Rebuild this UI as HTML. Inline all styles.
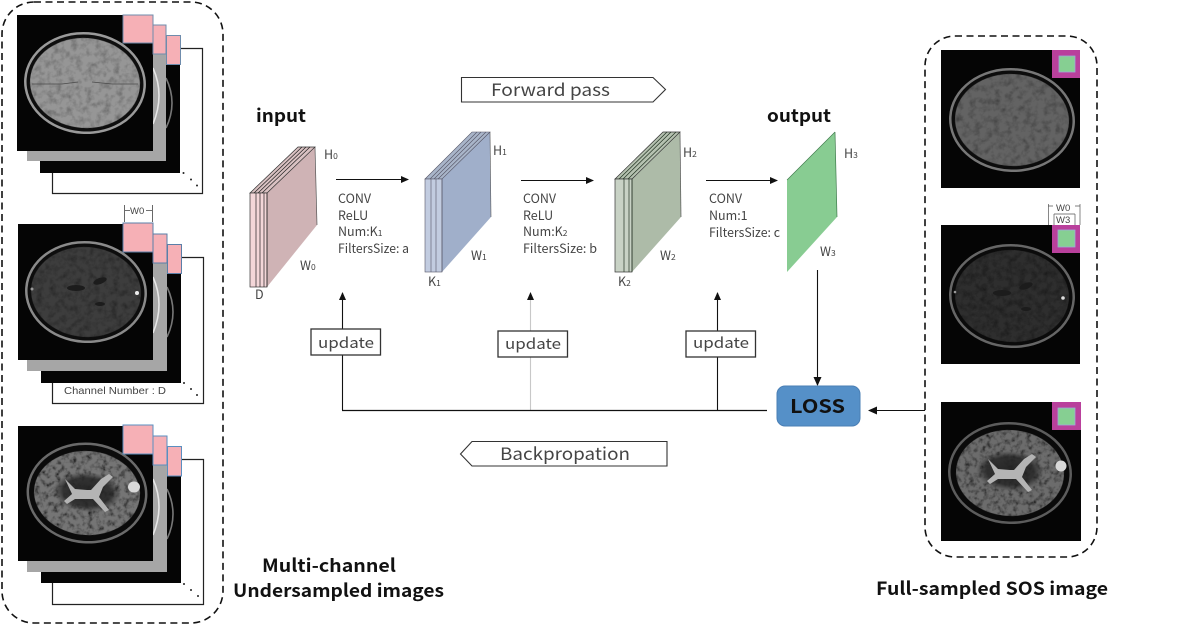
<!DOCTYPE html>
<html><head><meta charset="utf-8">
<style>
html,body{margin:0;padding:0;background:#fff}
svg{display:block}
text{font-family:"Noto Sans CJK SC","Liberation Sans",sans-serif;fill:#444;font-size:12.5px}
.b{font-weight:700;fill:#111;font-size:18px}
.s{font-size:8.5px}
</style></head><body>
<svg width="1177" height="624" viewBox="0 0 1177 624" xmlns="http://www.w3.org/2000/svg">
<defs>
<filter id="tex" x="0" y="0" width="100%" height="100%">
<feTurbulence type="fractalNoise" baseFrequency="0.16" numOctaves="3" seed="4"/>
<feColorMatrix values="0 0 0 0 0  0 0 0 0 0  0 0 0 0 0  1.1 0 0 0 -0.46"/>
<feComposite in2="SourceAlpha" operator="in"/>
<feMerge><feMergeNode in="SourceGraphic"/><feMergeNode/></feMerge>
</filter>
<filter id="tex2" x="0" y="0" width="100%" height="100%">
<feTurbulence type="fractalNoise" baseFrequency="0.2" numOctaves="3" seed="9"/>
<feColorMatrix values="0 0 0 0 0  0 0 0 0 0  0 0 0 0 0  2.200 0 0 0 -0.95"/>
<feComposite in2="SourceAlpha" operator="in"/>
<feMerge><feMergeNode in="SourceGraphic"/><feMergeNode/></feMerge>
</filter>
<radialGradient id="dk"><stop offset="0" stop-color="#222" stop-opacity=".95"/><stop offset=".7" stop-color="#222" stop-opacity=".8"/><stop offset="1" stop-color="#222" stop-opacity="0"/></radialGradient>
<marker id="a" markerWidth="8" markerHeight="8" refX="7" refY="4" orient="auto" markerUnits="userSpaceOnUse"><path d="M0,0.5L8,4L0,7.5z" fill="#111"/></marker>
<marker id="v" markerWidth="9" markerHeight="9" refX="8" refY="4.5" orient="auto" markerUnits="userSpaceOnUse"><path d="M0,0.5L9,4.5L0,8.5z" fill="#111"/></marker>
<g id="ventT1" fill="#1c1c1c">
<ellipse cx="-10" cy="-4" rx="9" ry="3"/><ellipse cx="14" cy="-11" rx="7" ry="3" transform="rotate(-20 14 -11)"/><ellipse cx="14" cy="12" rx="5" ry="2"/>
</g>
<g id="ventT2" fill="#b4b4b4">
<path d="M-22,-14L-12,-4L0,-3L4,-3L14,-14L22,-19L26,-16L16,-6L12,4L22,17L18,19L6,6L-12,6L-20,11L-23,8L-15,1z"/>
</g>
</defs>
<rect width="1177" height="624" fill="#fff"/>

<!-- dashed containers -->
<rect x="2" y="2" width="221" height="621" rx="32" fill="none" stroke="#111" stroke-width="1.6" stroke-dasharray="7 4.5"/>
<rect x="925" y="36" width="172" height="521" rx="30" fill="none" stroke="#111" stroke-width="1.6" stroke-dasharray="7 4.5"/>

<!-- stack 1 -->
<g>
<path d="M180,48.500H202.500V193.500H52.500V173" fill="none" stroke="#222" stroke-width="1.200"/>
<rect x="40" y="50" width="140" height="123" fill="#050505"/>
<path d="M166,78Q178,103 166,128" fill="none" stroke="#777" stroke-width="1.600"/>
<rect x="27" y="40" width="139" height="121" fill="#a6a6a6"/>
<path d="M153,68Q165,95 153,124" fill="none" stroke="#e6e6e6" stroke-width="1.600"/>
<rect x="17" y="15" width="136" height="136" fill="#050505"/>
<g transform="rotate(4 85 83)">
<ellipse cx="85" cy="83" rx="61" ry="51" fill="#9a9a9a"/>
<ellipse cx="85" cy="83" rx="58.500" ry="48.500" fill="#0e0e0e"/>
<ellipse cx="85" cy="83" rx="55" ry="45" fill="#969696" filter="url(#tex)"/>
</g>
<path d="M32,84H62L78,82M92,82L112,84H138" stroke="#4a4a4a" stroke-width=".8" fill="none"/>
<rect x="123" y="15" width="30" height="28" fill="#f6b0b6" stroke="#6f8cac"/>
<rect x="153" y="25" width="13" height="29" fill="#f6b0b6" stroke="#6f8cac"/>
<rect x="166.500" y="35.500" width="14" height="29" fill="#f6b0b6" stroke="#6f8cac"/>
<circle cx="183.500" cy="173" r="1" fill="#222"/><circle cx="191" cy="179.500" r="1" fill="#222"/><circle cx="197" cy="185.500" r="1" fill="#222"/>
</g>

<!-- stack 2 -->
<g>
<path d="M181,257.500H203.500V403.500H52.500V383" fill="none" stroke="#222" stroke-width="1.200"/>
<rect x="41" y="259" width="140" height="124" fill="#050505"/>
<path d="M167,287Q179,312 167,337" fill="none" stroke="#777" stroke-width="1.600"/>
<rect x="27" y="249" width="140" height="122" fill="#a6a6a6"/>
<path d="M153,277Q165,304 153,333" fill="none" stroke="#e6e6e6" stroke-width="1.600"/>
<rect x="18" y="224" width="135" height="136" fill="#050505"/>
<g transform="rotate(4 86 292)">
<ellipse cx="86" cy="292" rx="61" ry="51" fill="#8a8a8a"/>
<ellipse cx="86" cy="292" rx="58.500" ry="48.500" fill="#0d0d0d"/>
<ellipse cx="86" cy="292" rx="55" ry="45" fill="#3c3c3c" filter="url(#tex)"/>
</g>
<use href="#ventT1" x="86" y="292"/>
<circle cx="137" cy="293" r="2" fill="#eee"/><circle cx="32" cy="289" r="1.500" fill="#999"/>
<rect x="123" y="223" width="30" height="29" fill="#f6b0b6" stroke="#5a7fa8"/>
<rect x="153" y="234" width="14" height="29" fill="#f6b0b6" stroke="#5a7fa8"/>
<rect x="167.500" y="244.500" width="14" height="29" fill="#f6b0b6" stroke="#5a7fa8"/>
<path d="M124.500,205V222M152.500,205V222M125,210.500H130M146,210.500H152" stroke="#444" stroke-width=".8" fill="none"/>
<text x="130" y="214" style="font-size:9.500px;font-family:'Liberation Sans',sans-serif">W0</text>
<text x="64" y="394" style="font-size:10.500px;font-family:'Liberation Sans',sans-serif" textLength="102" lengthAdjust="spacingAndGlyphs">Channel Number : D</text>
<circle cx="184" cy="383" r="1" fill="#222"/><circle cx="191" cy="389" r="1" fill="#222"/><circle cx="197" cy="395" r="1" fill="#222"/>
</g>

<!-- stack 3 -->
<g>
<path d="M181,459.500H203.500V604.500H52.500V583" fill="none" stroke="#222" stroke-width="1.200"/>
<rect x="41" y="461" width="140" height="122" fill="#050505"/>
<path d="M167,489Q179,514 167,539" fill="none" stroke="#777" stroke-width="1.600"/>
<rect x="27" y="451" width="140" height="121" fill="#a6a6a6"/>
<path d="M153,479Q165,506 153,535" fill="none" stroke="#e6e6e6" stroke-width="1.600"/>
<rect x="18" y="426" width="135" height="135" fill="#050505"/>
<g transform="rotate(4 87 493)">
<ellipse cx="87" cy="493" rx="60.500" ry="50.500" fill="#6a6a6a"/>
<ellipse cx="87" cy="493" rx="58" ry="48" fill="#0b0b0b"/>
<ellipse cx="87" cy="493" rx="53" ry="42" fill="#757575" filter="url(#tex2)"/>
<ellipse cx="87" cy="492" rx="34" ry="20" fill="url(#dk)"/>
</g>
<use href="#ventT2" x="87" y="493"/>
<ellipse cx="134" cy="487" rx="6" ry="5.500" fill="#d8d8d8"/>
<rect x="123" y="425" width="30" height="29" fill="#f6b0b6" stroke="#5a8fc0"/>
<rect x="153" y="436" width="14" height="29" fill="#f6b0b6" stroke="#5a8fc0"/>
<rect x="167.500" y="446.500" width="14" height="29.500" fill="#f6b0b6" stroke="#5a8fc0"/>
<circle cx="184" cy="584" r="1" fill="#222"/><circle cx="191" cy="590" r="1" fill="#222"/><circle cx="198" cy="596" r="1" fill="#222"/>
</g>

<!-- right images -->
<g>
<rect x="941" y="50" width="139" height="138" fill="#050505"/>
<g transform="rotate(3 1012 120)">
<ellipse cx="1012" cy="120" rx="63" ry="52" fill="#777"/>
<ellipse cx="1012" cy="120" rx="60.500" ry="49.500" fill="#0c0c0c"/>
<ellipse cx="1012" cy="120" rx="57" ry="46" fill="#636363" filter="url(#tex)"/>
</g>
<rect x="1052" y="50" width="28" height="28" fill="#b9409c"/>
<rect x="1059" y="56" width="16" height="16" fill="#86cf92" stroke="#a0a8d8" stroke-width=".8"/>

<rect x="941" y="225" width="139" height="139" fill="#050505"/>
<g transform="rotate(3 1012 296)">
<ellipse cx="1012" cy="296" rx="63" ry="52" fill="#666"/>
<ellipse cx="1012" cy="296" rx="60.500" ry="49.500" fill="#0b0b0b"/>
<ellipse cx="1012" cy="296" rx="57" ry="46" fill="#2e2e2e" filter="url(#tex)"/>
</g>
<use href="#ventT1" x="1012" y="297"/>
<circle cx="1063" cy="298" r="1.800" fill="#ddd"/><circle cx="955" cy="292" r="1.300" fill="#999"/>
<rect x="1052" y="225" width="28" height="28" fill="#b9409c"/>
<rect x="1058" y="230" width="17" height="17" fill="#86cf92" stroke="#a0a8d8" stroke-width=".8"/>
<path d="M1048,206H1053M1075,206H1080M1048.500,204V225M1054,214V225M1075,214V225M1080,204V225M1054,214H1075" stroke="#555" stroke-width=".7" fill="none"/>
<text x="1056" y="211" style="font-size:9.500px;font-family:'Liberation Sans',sans-serif">W0</text>
<text x="1056" y="223" style="font-size:9.500px;font-family:'Liberation Sans',sans-serif">W3</text>

<rect x="941" y="402" width="140" height="139" fill="#050505"/>
<g transform="rotate(3 1010 473)">
<ellipse cx="1010" cy="473" rx="62" ry="51" fill="#5c5c5c"/>
<ellipse cx="1010" cy="473" rx="59.500" ry="48.500" fill="#0a0a0a"/>
<ellipse cx="1010" cy="473" rx="54" ry="43" fill="#6c6c6c" filter="url(#tex2)"/>
<ellipse cx="1010" cy="471" rx="34" ry="20" fill="url(#dk)"/>
</g>
<use href="#ventT2" x="1010" y="473"/>
<ellipse cx="1061" cy="466" rx="5.500" ry="5.500" fill="#d8d8d8"/>
<rect x="1052" y="402" width="29" height="28" fill="#b9409c"/>
<rect x="1058" y="408" width="17" height="17" fill="#86cf92" stroke="#a0a8d8" stroke-width=".8"/>
</g>

<!-- block input -->
<g stroke="#333" stroke-width=".7">
<polygon points="267,193 315,147 317,225 267,287" fill="#cfb3b5" stroke="none"/>
<path d="M315,147L317,225" fill="none" stroke="#555"/>
<polygon points="250,193 298,147 315,147 267,193" fill="#d9c1c2"/>
<rect x="250" y="193" width="17" height="94" fill="#f3d6d8"/>
<path d="M256,193V287M260,193V287M264,193V287M267,193V287M254,193L302,147M258,193L306,147M262,193L310,147" fill="none" stroke="#222"/>
</g>
<!-- block 1 -->
<g stroke="#556" stroke-width=".6">
<polygon points="442,179 490,132 491,217 442,272" fill="#a0afca" stroke="none"/>
<path d="M490,132L491,217" fill="none" stroke="#555"/>
<polygon points="425,179 472,132 490,132 442,179" fill="#a9b5c9"/>
<rect x="425" y="179" width="17" height="93" fill="#c2cce0"/>
<path d="M431,179V272M436,179V272M442,179V272M430,179L477,132M434,179L481,132M438,179L486,132" fill="none" stroke="#556"/>
</g>
<!-- block 2 -->
<g stroke="#333" stroke-width=".7">
<polygon points="632,179 680,132 681,217 632,272" fill="#adbba8" stroke="none"/>
<path d="M680,132L681,217" fill="none" stroke="#555"/>
<polygon points="615,179 663,132 680,132 632,179" fill="#b5c1b0"/>
<rect x="615" y="179" width="17" height="93" fill="#c8d2c5"/>
<path d="M624,179V272M629,179V272M632,179V272M619,179L667,132M623,179L671,132M628,179L676,132" fill="none" stroke="#232"/>
</g>
<!-- output -->
<polygon points="787,180 835,132 837,217 787,272" fill="#88cc92"/>
<path d="M835,132L837,217M787,180L835,132" stroke="#3f7a4c" stroke-width=".7" fill="none"/>

<!-- arrows -->
<g stroke="#111" stroke-width="1.100" fill="none">
<path d="M336,179.500H408" marker-end="url(#a)"/>
<path d="M521,180.500H593" marker-end="url(#a)"/>
<path d="M706,180.500H777" marker-end="url(#a)"/>
<path d="M342.500,410V293" marker-end="url(#a)"/>
<path d="M717.500,410V293" marker-end="url(#a)"/>
<path d="M530.500,410V293" stroke="#c8c8c8" marker-end="url(#a)"/>
<path d="M342,410.500H767" stroke-width="1.300"/>
<path d="M817.500,270V385" marker-end="url(#v)"/>
<path d="M925,410.500H869" marker-end="url(#v)"/>
</g>

<!-- update boxes -->
<g fill="#fff" stroke="#333" stroke-width="1.300">
<rect x="311" y="329" width="69.500" height="26"/>
<rect x="498" y="331" width="69.500" height="26"/>
<rect x="686" y="331" width="69.500" height="26"/>
</g>
<g>
<text x="318" y="348" textLength="56" lengthAdjust="spacingAndGlyphs" style="font-size:15px">update</text>
<text x="505" y="349" textLength="56" lengthAdjust="spacingAndGlyphs" style="font-size:15px">update</text>
<text x="693" y="348" textLength="56" lengthAdjust="spacingAndGlyphs" style="font-size:15px">update</text>
</g>

<!-- LOSS -->
<rect x="777" y="386" width="83" height="40" rx="8" fill="#5590c8" stroke="#4a7fb5"/>
<text x="790" y="413" class="b" style="font-size:19px" textLength="55" lengthAdjust="spacingAndGlyphs">LOSS</text>

<!-- pass banners -->
<polygon points="461.500,77.500 653,77.500 665.500,89.500 653,102 461.500,102" fill="#fff" stroke="#333" stroke-width="1.100"/>
<text x="491" y="96" textLength="119" lengthAdjust="spacingAndGlyphs" style="font-size:17px">Forward pass</text>
<polygon points="472,441.500 667,441.500 667,466 472,466 460.500,454" fill="#fff" stroke="#333" stroke-width="1.100"/>
<text x="500" y="460" textLength="130" lengthAdjust="spacingAndGlyphs" style="font-size:17px">Backpropation</text>

<!-- titles -->
<text x="256" y="122" class="b" textLength="50" lengthAdjust="spacingAndGlyphs">input</text>
<text x="767" y="122" class="b" textLength="64" lengthAdjust="spacingAndGlyphs">output</text>
<text x="262" y="572" class="b" textLength="134" lengthAdjust="spacingAndGlyphs">Multi-channel</text>
<text x="233" y="597" class="b" textLength="211" lengthAdjust="spacingAndGlyphs">Undersampled images</text>
<text x="876" y="595" class="b" textLength="232" lengthAdjust="spacingAndGlyphs">Full-sampled SOS image</text>

<!-- dims -->
<text x="324" y="159">H<tspan class="s">0</tspan></text>
<text x="300" y="270">W<tspan class="s">0</tspan></text>
<text x="255" y="299">D</text>
<text x="493" y="155">H<tspan class="s">1</tspan></text>
<text x="471" y="260">W<tspan class="s">1</tspan></text>
<text x="428" y="286">K<tspan class="s">1</tspan></text>
<text x="683" y="157">H<tspan class="s">2</tspan></text>
<text x="660" y="260">W<tspan class="s">2</tspan></text>
<text x="618" y="286">K<tspan class="s">2</tspan></text>
<text x="844" y="158">H<tspan class="s">3</tspan></text>
<text x="820" y="256">W<tspan class="s">3</tspan></text>

<!-- layer labels -->
<text x="338" y="203">CONV</text>
<text x="338" y="220">ReLU</text>
<text x="338" y="236">Num:K<tspan class="s">1</tspan></text>
<text x="338" y="253" textLength="71" lengthAdjust="spacingAndGlyphs">FiltersSize: a</text>
<text x="523" y="203">CONV</text>
<text x="523" y="220">ReLU</text>
<text x="523" y="236">Num:K<tspan class="s">2</tspan></text>
<text x="523" y="253" textLength="74" lengthAdjust="spacingAndGlyphs">FiltersSize: b</text>
<text x="709" y="203">CONV</text>
<text x="709" y="220">Num:1</text>
<text x="709" y="237" textLength="71" lengthAdjust="spacingAndGlyphs">FiltersSize: c</text>
</svg>
</body></html>
